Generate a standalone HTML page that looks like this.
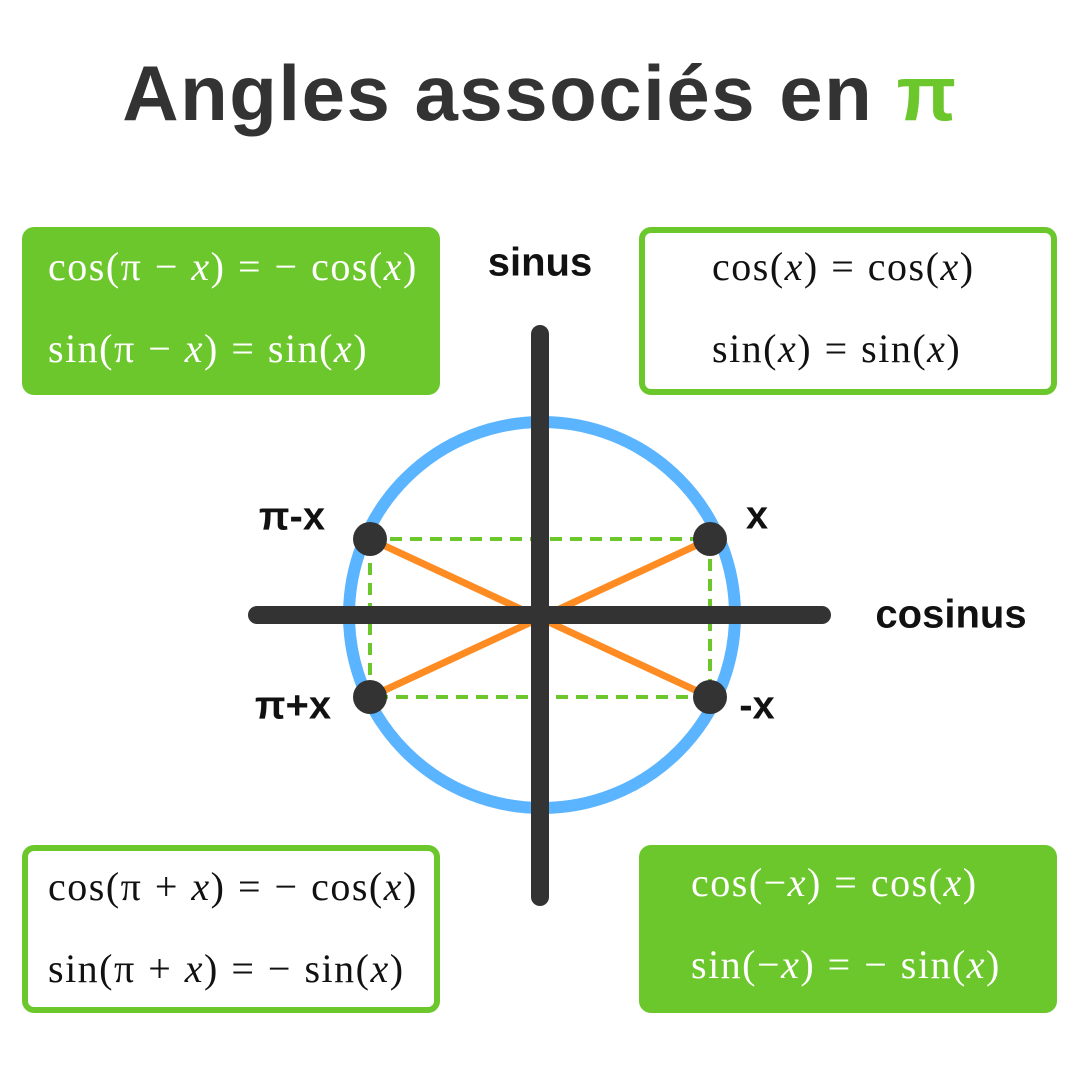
<!DOCTYPE html>
<html><head><meta charset="utf-8"><style>
body{margin:0;width:1080px;height:1080px;background:#fff;position:relative;overflow:hidden;font-family:"Liberation Sans",sans-serif}
.t{position:absolute;left:0;width:1080px;top:48px;text-align:center;font-size:78px;font-weight:bold;color:#333;letter-spacing:1.5px}
.box{position:absolute;width:418px;height:168px;border-radius:12px;box-sizing:border-box;font-family:"Liberation Serif",serif;font-size:40px;letter-spacing:1.5px;word-spacing:1px}
.g{background:#6cc72c;color:#fff}
.w{background:#fff;border:6px solid #6cc72c;color:#111}
.box div{position:absolute;white-space:nowrap}
i{font-style:italic}
.l{position:absolute;font-weight:bold;font-size:40px;color:#111;transform:translate(-50%,-50%);white-space:nowrap}
</style></head><body>
<div class="t">Angles associés en <span style="color:#6cc72c">π</span></div>
<div class="box g" style="left:22px;top:227px"><div style="left:26px;top:16px">cos(π − <i>x</i>) = − cos(<i>x</i>)</div><div style="left:26px;top:98px">sin(π − <i>x</i>) = sin(<i>x</i>)</div></div>
<div class="box w" style="left:639px;top:227px"><div style="left:67px;top:10px">cos(<i>x</i>) = cos(<i>x</i>)</div><div style="left:67px;top:92px">sin(<i>x</i>) = sin(<i>x</i>)</div></div>
<div class="box w" style="left:22px;top:845px"><div style="left:20px;top:12px">cos(π + <i>x</i>) = − cos(<i>x</i>)</div><div style="left:20px;top:94px">sin(π + <i>x</i>) = − sin(<i>x</i>)</div></div>
<div class="box g" style="left:639px;top:845px"><div style="left:52px;top:14px">cos(−<i>x</i>) = cos(<i>x</i>)</div><div style="left:52px;top:96px">sin(−<i>x</i>) = − sin(<i>x</i>)</div></div>
<svg style="position:absolute;left:0;top:0" width="1080" height="1080">
<circle cx="542" cy="615" r="193" fill="none" stroke="#5bb4ff" stroke-width="12"/>
<rect x="370" y="539" width="340" height="158" fill="none" stroke="#6cc72c" stroke-width="4" stroke-dasharray="12 8"/>
<line x1="370" y1="539" x2="710" y2="697" stroke="#ff8c22" stroke-width="7"/>
<line x1="370" y1="697" x2="710" y2="539" stroke="#ff8c22" stroke-width="7"/>
<line x1="540" y1="334" x2="540" y2="897" stroke="#333" stroke-width="18" stroke-linecap="round"/>
<line x1="257" y1="615" x2="822" y2="615" stroke="#333" stroke-width="18" stroke-linecap="round"/>
<g fill="#333"><circle cx="370" cy="539" r="17"/><circle cx="710" cy="539" r="17"/><circle cx="370" cy="697" r="17"/><circle cx="710" cy="697" r="17"/></g>
</svg>
<div class="l" style="left:292px;top:517px">π-x</div>
<div class="l" style="left:757px;top:516px">x</div>
<div class="l" style="left:293px;top:706px">π+x</div>
<div class="l" style="left:757px;top:706px">-x</div>
<div class="l" style="left:540px;top:263px">sinus</div>
<div class="l" style="left:951px;top:615px">cosinus</div>
</body></html>
